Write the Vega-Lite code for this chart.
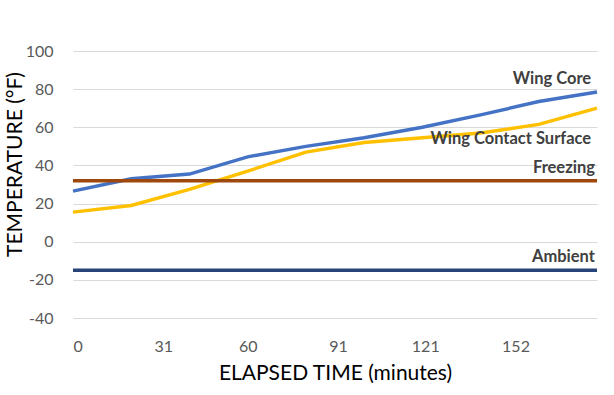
{
  "$schema": "https://vega.github.io/schema/vega-lite/v6.json",
  "width": 524,
  "height": 267,
  "autosize": {"type": "none"},
  "padding": {"left": 73, "top": 51, "right": 17, "bottom": 77},
  "background": "white",
  "config": {"view": {"stroke": null}, "font": "Lato"},
  "datasets": {
    "series": [
      {"t": 0, "temp": 26.5, "s": "Wing Core"},
      {"t": 20, "temp": 33, "s": "Wing Core"},
      {"t": 40, "temp": 35.5, "s": "Wing Core"},
      {"t": 60, "temp": 44.5, "s": "Wing Core"},
      {"t": 80, "temp": 50, "s": "Wing Core"},
      {"t": 100, "temp": 54.5, "s": "Wing Core"},
      {"t": 120, "temp": 60, "s": "Wing Core"},
      {"t": 140, "temp": 66.5, "s": "Wing Core"},
      {"t": 160, "temp": 73.5, "s": "Wing Core"},
      {"t": 180, "temp": 78.5, "s": "Wing Core"},
      {"t": 0, "temp": 15.5, "s": "Wing Contact Surface"},
      {"t": 20, "temp": 19, "s": "Wing Contact Surface"},
      {"t": 40, "temp": 27.5, "s": "Wing Contact Surface"},
      {"t": 60, "temp": 37, "s": "Wing Contact Surface"},
      {"t": 80, "temp": 47, "s": "Wing Contact Surface"},
      {"t": 100, "temp": 52, "s": "Wing Contact Surface"},
      {"t": 120, "temp": 54.5, "s": "Wing Contact Surface"},
      {"t": 140, "temp": 57, "s": "Wing Contact Surface"},
      {"t": 160, "temp": 61.5, "s": "Wing Contact Surface"},
      {"t": 180, "temp": 70, "s": "Wing Contact Surface"},
      {"t": 0, "temp": 32, "s": "Freezing"},
      {"t": 180, "temp": 32, "s": "Freezing"},
      {"t": 0, "temp": -15, "s": "Ambient"},
      {"t": 180, "temp": -15, "s": "Ambient"}
    ],
    "labels": [
      {"t": 178, "temp": 85.5, "s": "Wing Core"},
      {"t": 178, "temp": 53.8, "s": "Wing Contact Surface"},
      {"t": 179.3, "temp": 38.5, "s": "Freezing"},
      {"t": 179.3, "temp": -7.9, "s": "Ambient"}
    ]
  },
  "encoding": {
    "x": {
      "field": "t", "type": "quantitative",
      "scale": {"domain": [0, 180], "nice": false, "zero": false},
      "axis": {
        "values": [0, 31, 60, 91, 121, 152],
        "title": "ELAPSED TIME (minutes)",
        "grid": false, "domain": false, "ticks": false,
        "labelOverlap": false,
        "labelFontSize": 16, "labelColor": "#595959", "labelPadding": 20,
        "labelFont": "Lato",
        "titleFontSize": 21, "titleFontWeight": "normal", "titleColor": "#000000",
        "titlePadding": 8, "titleFont": "Lato"
      }
    },
    "y": {
      "field": "temp", "type": "quantitative",
      "scale": {"domain": [-40, 100], "nice": false},
      "axis": {
        "values": [-40, -20, 0, 20, 40, 60, 80, 100],
        "labelExpr": "'' + datum.value",
        "title": "TEMPERATURE (°F)",
        "grid": true, "gridColor": "#D9D9D9", "gridWidth": 1,
        "domain": false, "ticks": false,
        "labelOverlap": false,
        "labelFontSize": 16, "labelColor": "#595959", "labelPadding": 20,
        "labelFont": "Lato",
        "titleFontSize": 21, "titleFontWeight": "normal", "titleColor": "#000000",
        "titlePadding": 0, "titleFont": "Lato", "titleY": 113
      }
    }
  },
  "layer": [
    {
      "data": {"name": "series"},
      "mark": {"type": "line", "strokeWidth": 3.4},
      "encoding": {
        "color": {
          "field": "s", "type": "nominal",
          "scale": {
            "domain": ["Wing Core", "Wing Contact Surface", "Freezing", "Ambient"],
            "range": ["#4472C4", "#FFC000", "#9E480E", "#264478"]
          },
          "legend": null
        },
        "detail": {"field": "s"}
      }
    },
    {
      "data": {"name": "labels"},
      "mark": {"type": "text", "align": "right", "baseline": "middle", "fontSize": 16.5, "fontWeight": "bold", "color": "#404040", "font": "Lato"},
      "encoding": {
        "text": {"field": "s"}
      }
    }
  ]
}
